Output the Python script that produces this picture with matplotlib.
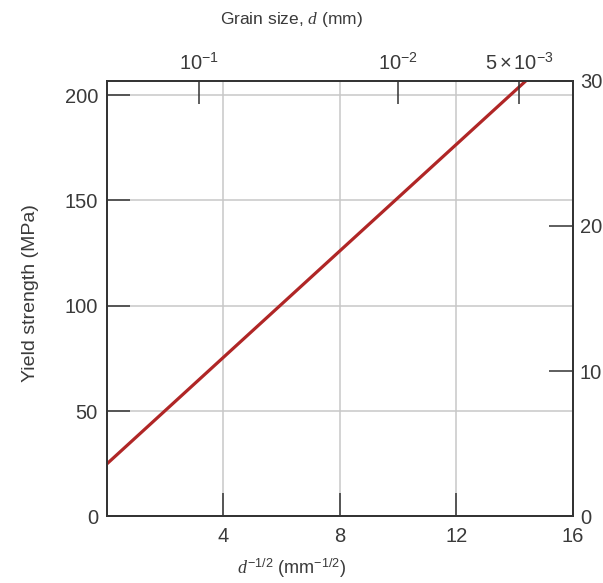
import matplotlib
matplotlib.use("Agg")
import matplotlib.pyplot as plt
import numpy as np

plt.rcParams['font.family'] = ['Liberation Sans', 'DejaVu Sans']
plt.rcParams['mathtext.fontset'] = 'custom'
plt.rcParams['mathtext.rm'] = 'Liberation Sans'
plt.rcParams['mathtext.it'] = 'Liberation Serif:italic'
plt.rcParams['mathtext.bf'] = 'Liberation Sans:bold'

# Hall-Petch line: yield strength vs d^-1/2
d_inv_sqrt = [0, 14.4]          # mm^-1/2
yield_mpa = [25, 207]           # MPa

x_ticks = [4, 8, 12, 16]
y_ticks_mpa = [0, 50, 100, 150, 200]
y_ticks_ksi = [0, 10, 20, 30]
grain_sizes = [1e-1, 1e-2, 5e-3]   # mm, top axis
grain_labels = [r'$10^{-1}$', r'$10^{-2}$', r'$5\times10^{-3}$']

MPA_PER_KSI = 6.895
text_color = '#3a3a3a'
spine_color = '#333333'
grid_color = '#c8c8c8'

fig = plt.figure(figsize=(6.03, 5.83), dpi=100)
ax = fig.add_axes([0.1774, 0.1141, 0.7728, 0.7475])

ax.plot(d_inv_sqrt, yield_mpa, color='#b02626', lw=2.3, solid_capstyle='butt', zorder=3)

ax.set_xlim(0, 16)
ax.set_ylim(0, 30 * MPA_PER_KSI)
ax.set_xticks(x_ticks)
ax.set_yticks(y_ticks_mpa)
ax.grid(True, color=grid_color, lw=1.1)
ax.tick_params(direction='in', length=16.5, width=1.1, color=spine_color,
               labelsize=14.5, labelcolor=text_color)
ax.tick_params(axis='y', pad=6.5)
ax.tick_params(axis='x', pad=7.5)

ax.set_xlabel(r'$d^{-1/2}$ (mm$^{-1/2}$)', fontsize=13, color=text_color)
ax.xaxis.set_label_coords(0.395, -0.091)
ax.set_ylabel('Yield strength (MPa)', fontsize=14, color=text_color)
ax.yaxis.set_label_coords(-0.145, 0.513)

# right axis in ksi
axr = ax.twinx()
axr.set_ylim(0, 30)
axr.set_yticks(y_ticks_ksi)
axr.tick_params(direction='in', length=17, width=1.1, color=spine_color,
                labelsize=14.5, labelcolor=text_color, pad=5)

# top axis in grain size
axt = ax.twiny()
axt.set_xlim(0, 16)
axt.set_xticks(np.array(grain_sizes) ** -0.5)
axt.set_xticklabels(grain_labels)
axt.tick_params(direction='in', length=16.5, width=1.1, color=spine_color,
                labelsize=14.5, labelcolor=text_color, pad=5)
axt.set_xlabel(r'Grain size, $d$ (mm)', fontsize=12.5, color=text_color)
axt.xaxis.set_label_coords(0.395, 1.13)

for a in (ax, axr, axt):
    for s in a.spines.values():
        s.set_color(spine_color)
        s.set_linewidth(1.1)

fig.savefig('out.png', dpi=100)
